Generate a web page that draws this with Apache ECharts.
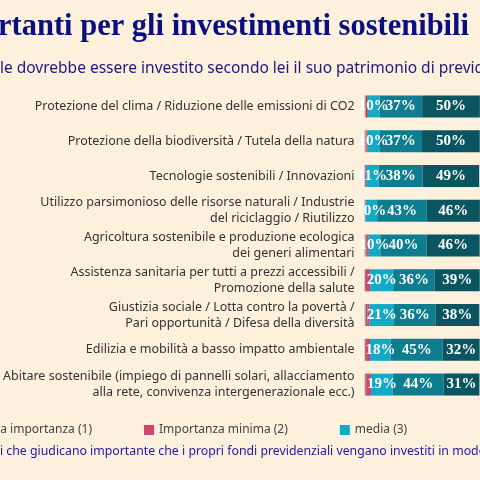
<!DOCTYPE html>
<html><head><meta charset="utf-8">
<script src="https://cdn.jsdelivr.net/npm/echarts@6/dist/echarts.min.js"></script>
<style>html,body{margin:0;background:#fdf0dc}#c{width:480px;height:480px}</style>
</head><body><div id="c"></div>
<script>
const categories = [
  'Protezione del clima / Riduzione delle emissioni di CO2',
  'Protezione della biodiversità / Tutela della natura',
  'Tecnologie sostenibili / Innovazioni',
  'Utilizzo parsimonioso delle risorse naturali / Industrie\ndel riciclaggio / Riutilizzo',
  'Agricoltura sostenibile e produzione ecologica\ndei generi alimentari',
  'Assistenza sanitaria per tutti a prezzi accessibili /\nPromozione della salute',
  'Giustizia sociale / Lotta contro la povertà /\nPari opportunità / Difesa della diversità',
  'Edilizia e mobilità a basso impatto ambientale',
  'Abitare sostenibile (impiego di pannelli solari, allacciamento\nalla rete, convivenza intergenerazionale ecc.)'
]
const nonSo    = [1.4, 1.5, 0.5, 0.4, 1.7, 0.5, 1.5, 0.8, 0.9]
const nessuna  = [0.7, 0, 0, 0, 0.5, 0.5, 0.9, 0.5, 0.6]
const minima   = [0.8, 1.3, 0.8, 0.5, 1.5, 3.8, 2, 3.4, 4]
const media    = [10, 10, 11, 10, 10, 20, 21, 18, 19]
const elevata  = [37, 37, 38, 43, 40, 36, 36, 45, 44]
const molto    = [50, 50, 49, 46, 46, 39, 38, 32, 31]

const chart = echarts.init(document.getElementById('c'))
const lbl = {
  show: true, position: 'inside', color: '#fff', fontFamily: 'Liberation Serif',
  fontWeight: 'bold', fontSize: 15, formatter: p => p.value >= 5 ? p.value + '%' : ''
}
function s(name, data, color, label) {
  return { name, type: 'bar', stack: 'a', data, barWidth: 22, itemStyle: { color }, label: label ? lbl : { show: false } }
}
chart.setOption({
  backgroundColor: '#fdf0dc',
  animation: false,
  grid: { left: 200, width: 443, top: 89, height: 313, containLabel: false },
  xAxis: { type: 'value', min: 0, max: 100, show: false },
  yAxis: {
    type: 'category', inverse: true, data: categories,
    axisLine: { show: false }, axisTick: { show: false },
    axisLabel: { color: '#333', fontFamily: 'Noto Sans', fontSize: 12.5, lineHeight: 16, margin: 10, align: 'right' }
  },
  legend: {
    left: -62, top: 419, itemWidth: 10, itemHeight: 10, itemGap: 52, icon: 'rect',
    textStyle: { color: '#444', fontFamily: 'Noto Sans', fontSize: 12 },
    data: ['Nessuna importanza (1)', 'Importanza minima (2)', 'media (3)', 'elevata (4)']
  },
  graphic: [
    { type: 'text', left: -2, top: 12, style: { text: 'rtanti per gli investimenti sostenibili', fill: '#0a0f80', font: 'bold 30.5px "Liberation Serif"' } },
    { type: 'text', left: 0, top: 61, style: { text: 'le dovrebbe essere investito secondo lei il suo patrimonio di previdenza', fill: '#1a1a80', font: '15.5px "Noto Sans"' } },
    { type: 'text', left: 0, top: 445, style: { text: 'i che giudicano importante che i propri fondi previdenziali vengano investiti in modo sostenibile', fill: '#1a1aa0', font: '12.3px "Noto Sans"' } }
  ],
  series: [
    s('Non so', nonSo, '#a8a6a4'),
    s('Nessuna importanza (1)', nessuna, '#8e1c3c'),
    s('Importanza minima (2)', minima, '#d0456e'),
    s('media (3)', media, '#14a9c7', true),
    s('elevata (4)', elevata, '#0e7d8f', true),
    s('molto elevata (5)', molto, '#0a5560', true)
  ]
})
</script></body></html>
